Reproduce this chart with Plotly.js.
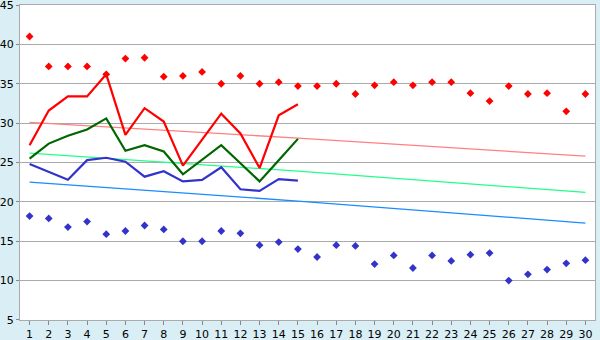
<!DOCTYPE html>
<html><head><meta charset="utf-8">
<script src="https://cdn.plot.ly/plotly-3.0.1.min.js"></script>
<style>html,body{margin:0;padding:0;background:#d9eff5;}</style>
</head><body>
<div id="chart" style="width:600px;height:340px;"></div>
<script>
const days = Array.from({length:30},(_,i)=>i+1);
const days15 = days.slice(0,15);
const yTicks = [5,10,15,20,25,30,35,40,45];
const recordHigh = [41.0,37.2,37.2,37.2,36.2,38.2,38.3,35.9,36.0,36.5,35.0,36.0,35.0,35.2,34.7,34.7,35.0,33.7,34.8,35.2,34.8,35.2,35.2,33.8,32.8,34.7,33.7,33.8,31.5,33.7];
const recordLow = [18.2,17.9,16.8,17.5,15.9,16.3,17.0,16.5,15.0,15.0,16.3,16.0,14.5,14.9,14.0,13.0,14.5,14.4,12.1,13.2,11.6,13.2,12.5,13.3,13.5,10.0,10.8,11.4,12.2,12.6];
const maxTemp = [27.2,31.6,33.4,33.4,36.2,28.5,31.9,30.2,24.6,27.9,31.2,28.7,24.3,31.0,32.4];
const meanTemp = [25.5,27.4,28.4,29.2,30.6,26.5,27.2,26.4,23.5,25.4,27.2,24.9,22.6,25.3,28.0];
const minTemp = [24.8,23.8,22.8,25.3,25.6,25.1,23.2,23.9,22.6,22.8,24.4,21.6,21.4,22.9,22.7];
const trendDays = [1,15,30];
const normalHigh = [30.1,28.1,25.8];
const normalMean = [26.2,23.9,21.2];
const normalLow = [22.5,20.1,17.3];

const traces = [
  {x:trendDays,y:normalHigh,mode:'lines',line:{color:'#ff8080',width:1.3},hoverinfo:'skip'},
  {x:trendDays,y:normalMean,mode:'lines',line:{color:'#22ff88',width:1.3},hoverinfo:'skip'},
  {x:trendDays,y:normalLow,mode:'lines',line:{color:'#1a8cff',width:1.3},hoverinfo:'skip'},
  {x:days,y:recordHigh,mode:'markers',marker:{symbol:'diamond',size:6,color:'#ff0000'}},
  {x:days,y:recordLow,mode:'markers',marker:{symbol:'diamond',size:6,color:'#3333cc'}},
  {x:days15,y:minTemp,mode:'lines',line:{color:'#3333cc',width:2.2}},
  {x:days15,y:meanTemp,mode:'lines',line:{color:'#006600',width:2.2}},
  {x:days15,y:maxTemp,mode:'lines',line:{color:'#ff0000',width:2.2}}
];
const layout = {
  width:600,height:340,
  margin:{l:20,r:5,t:5,b:20,pad:0},
  paper_bgcolor:'#d9eff5',plot_bgcolor:'#ffffff',
  showlegend:false,
  font:{family:'DejaVu Sans, Verdana, sans-serif',size:11,color:'#000'},
  xaxis:{range:[0.5,30.5],tickmode:'array',tickvals:days,ticktext:days.map(String),
    showgrid:false,zeroline:false,showline:true,linecolor:'#aaaaaa',linewidth:1,mirror:true,
    ticks:'outside',ticklen:4,tickcolor:'#888',tickfont:{size:11}},
  yaxis:{range:[4.999,45.001],tickmode:'array',tickvals:yTicks,ticktext:yTicks.map(String),
    showgrid:true,gridcolor:'#aaaaaa',gridwidth:1,zeroline:false,
    showline:true,linecolor:'#aaaaaa',linewidth:1,mirror:true,ticks:'outside',ticklen:3,tickcolor:'#888',
    tickfont:{size:11},ticklabeloverflow:'allow'}
};
Plotly.newPlot('chart',traces,layout,{displayModeBar:false,staticPlot:true});
</script>
</body></html>
